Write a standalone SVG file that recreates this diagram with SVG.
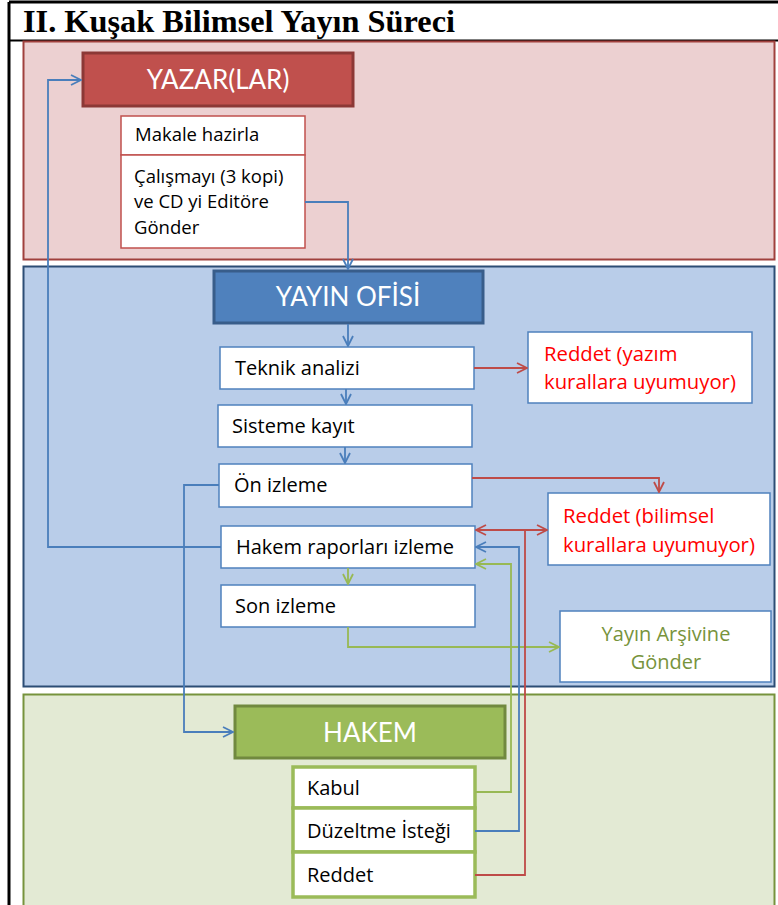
<svg xmlns="http://www.w3.org/2000/svg" width="778" height="905" viewBox="0 0 778 905">
  <defs>
    <style>
      .title { font-family: "Liberation Serif", "Times New Roman", serif; font-weight: bold; font-size: 31px; fill: #000; }
      .head { font-family: Lato, "Liberation Sans", sans-serif; font-size: 26px; fill: #fff; text-anchor: middle; }
      .ts { font-family: "Open Sans", "Liberation Sans", sans-serif; font-size: 18.5px; fill: #000; }
      .t { font-family: "Open Sans", "Liberation Sans", sans-serif; font-size: 20px; fill: #000; }
      .tr { font-family: "Open Sans", "Liberation Sans", sans-serif; font-size: 20.3px; fill: #ff0000; }
      .tg { font-family: "Open Sans", "Liberation Sans", sans-serif; font-size: 20px; fill: #77933c; text-anchor: middle; }
      .box-b { fill: #fff; stroke: #4f81bd; stroke-width: 1.5; }
      .box-r { fill: #fff; stroke: #c0504d; stroke-width: 1.5; }
      .box-g { fill: #fff; stroke: #9bbb59; stroke-width: 3.5; }
      .cb { fill: none; stroke: #4a7ebb; stroke-width: 1.8; }
      .cr { fill: none; stroke: #be4b48; stroke-width: 1.8; }
      .cg { fill: none; stroke: #98b954; stroke-width: 1.8; }
    </style>
    <marker id="ab" viewBox="0 0 12 12" refX="11" refY="6" markerWidth="12" markerHeight="12" markerUnits="userSpaceOnUse" orient="auto-start-reverse">
      <path d="M1,1 L11,6 L1,11" fill="none" stroke="#4a7ebb" stroke-width="1.8"/>
    </marker>
    <marker id="ar" viewBox="0 0 12 12" refX="11" refY="6" markerWidth="12" markerHeight="12" markerUnits="userSpaceOnUse" orient="auto-start-reverse">
      <path d="M1,1 L11,6 L1,11" fill="none" stroke="#be4b48" stroke-width="1.8"/>
    </marker>
    <marker id="ag" viewBox="0 0 12 12" refX="11" refY="6" markerWidth="12" markerHeight="12" markerUnits="userSpaceOnUse" orient="auto-start-reverse">
      <path d="M1,1 L11,6 L1,11" fill="none" stroke="#98b954" stroke-width="1.8"/>
    </marker>
  </defs>

  <rect x="0" y="0" width="778" height="905" fill="#fff"/>

  <!-- outer frame and title -->
  <g id="frame">
    <line x1="9" y1="2" x2="778" y2="2" stroke="#000" stroke-width="3"/>
    <line x1="9" y1="2" x2="9" y2="905" stroke="#000" stroke-width="3"/>
    <line x1="9" y1="40.5" x2="778" y2="40.5" stroke="#000" stroke-width="2"/>
    <text class="title" x="23" y="32" textLength="432" lengthAdjust="spacingAndGlyphs">II. Kuşak Bilimsel Yayın Süreci</text>
  </g>

  <!-- swimlane bands -->
  <g id="lane-yazar">
    <rect x="23.5" y="41.5" width="751" height="218" fill="#ecd0d1" stroke="#a0403d" stroke-width="2"/>
  </g>
  <g id="lane-ofis">
    <rect x="23.5" y="266.5" width="751" height="420" fill="#b9cde9" stroke="#2c4d75" stroke-width="2"/>
  </g>
  <g id="lane-hakem">
    <rect x="23.5" y="694.5" width="751" height="215" fill="#e3ead4" stroke="#77933c" stroke-width="2"/>
  </g>

  <!-- YAZAR(LAR) -->
  <g id="yazar">
    <rect x="83" y="53" width="270" height="53" fill="#c0504d" stroke="#8c3836" stroke-width="3"/>
    <text class="head" x="218" y="89">YAZAR(LAR)</text>
  </g>
  <g id="makale">
    <rect class="box-r" x="121" y="116" width="184" height="39"/>
    <text class="ts" x="135" y="141">Makale hazirla</text>
  </g>
  <g id="gonder">
    <rect class="box-r" x="121" y="155" width="184" height="93"/>
    <text class="ts" x="134" y="183">Çalışmayı (3 kopi)</text>
    <text class="ts" x="134" y="208">ve CD yi Editöre</text>
    <text class="ts" x="134" y="234">Gönder</text>
  </g>

  <!-- YAYIN OFİSİ -->
  <g id="ofis">
    <rect x="214" y="271" width="269" height="52" fill="#4f81bd" stroke="#385d8a" stroke-width="3"/>
    <text class="head" x="348" y="306">YAYIN OFİSİ</text>
  </g>
  <g id="teknik">
    <rect class="box-b" x="220" y="347" width="254" height="42"/>
    <text class="t" x="235" y="375">Teknik analizi</text>
  </g>
  <g id="sisteme">
    <rect class="box-b" x="218" y="405" width="254" height="42"/>
    <text class="t" x="232" y="433">Sisteme kayıt</text>
  </g>
  <g id="on-izleme">
    <rect class="box-b" x="219" y="464" width="253" height="43"/>
    <text class="t" x="234" y="492">Ön izleme</text>
  </g>
  <g id="hakem-rapor">
    <rect class="box-b" x="221" y="526" width="254" height="42"/>
    <text class="t" x="236" y="554">Hakem raporları izleme</text>
  </g>
  <g id="son-izleme">
    <rect class="box-b" x="221" y="585" width="254" height="42"/>
    <text class="t" x="235" y="613">Son izleme</text>
  </g>
  <g id="reddet-yazim">
    <rect class="box-b" x="528" y="332" width="224" height="71"/>
    <text class="tr" x="544" y="361">Reddet (yazım</text>
    <text class="tr" x="544" y="389">kurallara uyumuyor)</text>
  </g>
  <g id="reddet-bilimsel">
    <rect class="box-b" x="548" y="493" width="222" height="72"/>
    <text class="tr" x="563" y="523">Reddet (bilimsel</text>
    <text class="tr" x="563" y="552">kurallara uyumuyor)</text>
  </g>
  <g id="arsiv">
    <rect class="box-b" x="560" y="611" width="211" height="71"/>
    <text class="tg" x="666" y="641">Yayın Arşivine</text>
    <text class="tg" x="666" y="669">Gönder</text>
  </g>

  <!-- HAKEM -->
  <g id="hakem">
    <rect x="235" y="706" width="270" height="52" fill="#9bbb59" stroke="#71893f" stroke-width="3"/>
    <text class="head" x="370" y="742">HAKEM</text>
  </g>
  <g id="kabul">
    <rect class="box-g" x="293" y="767" width="182" height="41"/>
    <text class="t" x="307" y="795">Kabul</text>
  </g>
  <g id="duzeltme">
    <rect class="box-g" x="293" y="808" width="182" height="44"/>
    <text class="t" x="307" y="838">Düzeltme İsteği</text>
  </g>
  <g id="reddet-hakem">
    <rect class="box-g" x="293" y="852" width="182" height="45"/>
    <text class="t" x="307" y="882">Reddet</text>
  </g>

  <!-- connectors -->
  <g id="connectors">
    <path class="cb" d="M305,202 H348 V269" marker-end="url(#ab)"/>
    <path class="cb" d="M348,324 V346" marker-end="url(#ab)"/>
    <path class="cb" d="M346,389 V404" marker-end="url(#ab)"/>
    <path class="cb" d="M345,447 V463" marker-end="url(#ab)"/>
    <path class="cr" d="M474,368 H527" marker-end="url(#ar)"/>
    <path class="cr" d="M472,478 H659 V492" marker-end="url(#ar)"/>
    <path class="cb" d="M221,547 H48 V80 H81" marker-end="url(#ab)"/>
    <path class="cb" d="M219,485 H184 V732 H233" marker-end="url(#ab)"/>
    <path class="cg" d="M348,568 V584" marker-end="url(#ag)"/>
    <path class="cg" d="M348,627 V647 H559" marker-end="url(#ag)"/>
    <path class="cr" d="M476,530 H547" marker-start="url(#ar)" marker-end="url(#ar)"/>
    <path class="cr" d="M475,875 H525 V530"/>
    <path class="cb" d="M475,831 H519 V547 H476" marker-end="url(#ab)"/>
    <path class="cg" d="M475,792 H511 V564 H476" marker-end="url(#ag)"/>
  </g>
</svg>
